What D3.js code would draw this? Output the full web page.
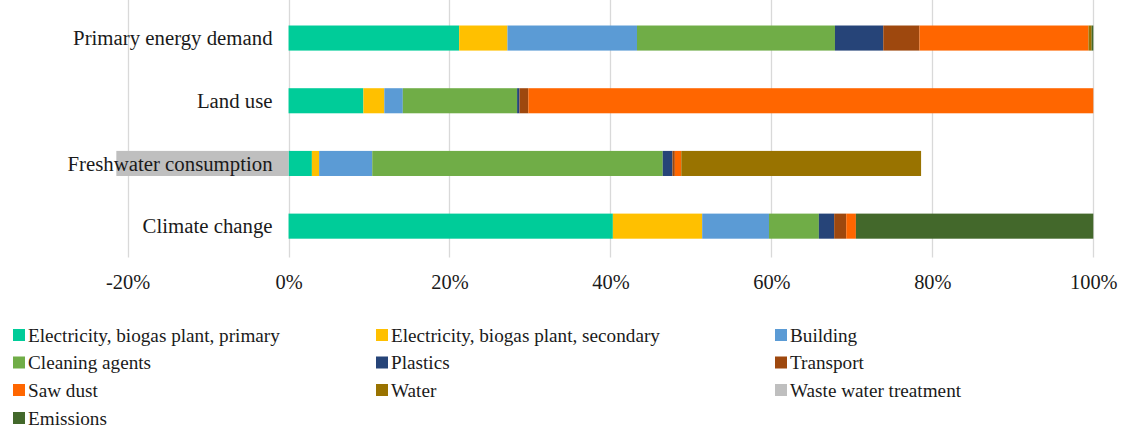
<!DOCTYPE html>
<html>
<head>
<meta charset="utf-8">
<script src="https://cdn.jsdelivr.net/npm/d3@7"></script>
<style>
  html, body { margin: 0; padding: 0; background: #fff; }
  svg { display: block; }
</style>
</head>
<body>
<svg id="chart" width="1123" height="430"></svg>
<script>
const categories = ["Primary energy demand", "Land use", "Freshwater consumption", "Climate change"];
const seriesNames = [
  "Electricity, biogas plant, primary",
  "Electricity, biogas plant, secondary",
  "Building",
  "Cleaning agents",
  "Plastics",
  "Transport",
  "Saw dust",
  "Water",
  "Waste water treatment",
  "Emissions"
];
// values in % per category (order: Primary energy demand, Land use, Freshwater consumption, Climate change)
const elecPrimary   = [21.2, 9.3, 2.9, 40.3];
const elecSecondary = [6.0, 2.6, 0.9, 11.1];
const building      = [16.1, 2.3, 6.6, 8.3];
const cleaning      = [24.6, 14.2, 36.1, 6.2];
const plastics      = [6.0, 0.3, 1.2, 1.9];
const transport     = [4.5, 1.1, 0.3, 1.5];
const sawDust       = [21.0, 70.2, 0.8, 1.2];
const water         = [0.4, 0, 29.8, 0];
const wasteWater    = [0, 0, -21.4, 0];
const emissions     = [0.2, 0, 0, 29.5];
const seriesColors = ["#00CC99", "#FFC000", "#5B9BD5", "#70AD47", "#264478", "#9E480E", "#FF6600", "#997300", "#BFBFBF", "#43682B"];
const tickValues = [-20, 0, 20, 40, 60, 80, 100];
const tickLabels = ["-20%", "0%", "20%", "40%", "60%", "80%", "100%"];

const FONT = "'Liberation Serif', 'Times New Roman', serif";
const TEXT_COLOR = "#1a1a1a";

const allSeries = [elecPrimary, elecSecondary, building, cleaning, plastics, transport, sawDust, water, wasteWater, emissions];
const table = categories.map((c, i) => {
  const row = { category: c };
  seriesNames.forEach((s, j) => { row[s] = allSeries[j][i]; });
  return row;
});

const svg = d3.select("#chart");
const x = d3.scaleLinear().domain([-20, 100]).range([127.6, 1093.3]);
const y = d3.scaleBand().domain(categories).range([6.7, 257.5]).paddingInner(0.6).paddingOuter(0.3);

// gridlines
svg.append("g")
  .selectAll("line").data(tickValues).join("line")
  .attr("x1", d => Math.round(x(d)) + 0.5).attr("x2", d => Math.round(x(d)) + 0.5)
  .attr("y1", 0).attr("y2", 257.5)
  .attr("stroke", "#d9d9d9").attr("stroke-width", 1.3);

const stack = d3.stack().keys(seriesNames).offset(d3.stackOffsetDiverging);
const stacked = stack(table);

svg.append("g").selectAll("g").data(stacked).join("g")
  .attr("fill", (d, i) => seriesColors[i])
  .selectAll("rect").data(d => d).join("rect")
  .attr("x", d => x(Math.min(d[0], d[1])))
  .attr("width", d => Math.abs(x(d[1]) - x(d[0])))
  .attr("y", d => y(d.data.category))
  .attr("height", y.bandwidth());

// category labels (drawn above the bars)
const yAxis = d3.axisLeft(y).tickSize(0).tickPadding(0);
const gy = svg.append("g").attr("transform", `translate(${x(0) - 16},0)`).call(yAxis);
gy.select(".domain").remove();
gy.selectAll("text")
  .style("font-family", FONT)
  .style("font-size", "20.8px").attr("fill", TEXT_COLOR).attr("dy", "0.35em");

// x axis tick labels
const xAxis = d3.axisBottom(x).tickValues(tickValues).tickSize(0).tickPadding(0)
  .tickFormat((d, i) => tickLabels[i]);
const gx = svg.append("g").attr("transform", "translate(0,275)").call(xAxis);
gx.select(".domain").remove();
gx.selectAll("text")
  .style("font-family", FONT)
  .style("font-size", "20.4px").attr("fill", TEXT_COLOR).attr("dy", "0.71em");

// legend
const legendCols = [13, 376, 775];
const legendRows = [335, 362.5, 390, 418];
const legend = svg.append("g").selectAll("g").data(seriesNames).join("g")
  .attr("transform", (d, i) => `translate(${legendCols[i % 3]},${legendRows[Math.floor(i / 3)]})`);
legend.append("rect")
  .attr("x", 0).attr("y", -6).attr("width", 12).attr("height", 12)
  .attr("fill", (d, i) => seriesColors[i]);
legend.append("text")
  .attr("x", 15).attr("y", 0).attr("dy", "0.35em")
  .style("font-family", FONT)
  .style("font-size", "19.2px").attr("fill", TEXT_COLOR)
  .text(d => d);
</script>
</body>
</html>
